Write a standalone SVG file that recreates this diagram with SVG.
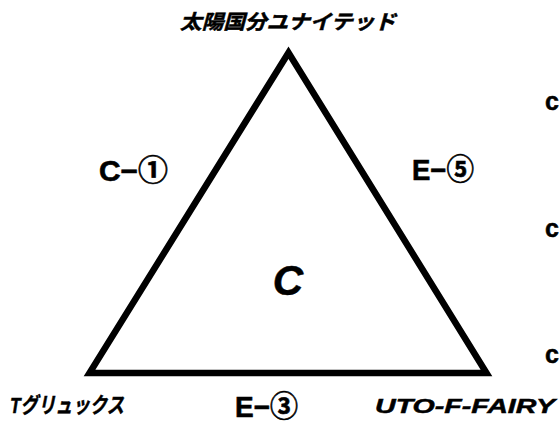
<svg xmlns="http://www.w3.org/2000/svg" width="560" height="423" viewBox="0 0 560 423">
<style>
.lbl{font-family:"Liberation Sans","Noto Sans CJK JP",sans-serif;font-weight:bold;fill:#000;stroke:#000;stroke-width:0.5}
.it{font-style:italic}
.edge{font-family:"Liberation Sans","Noto Sans CJK JP",sans-serif;font-weight:bold;font-size:29px;fill:#000;stroke:#000;stroke-width:0.6}
</style>
<rect width="560" height="423" fill="#fff"/>
<g id="triangle">
<polygon points="89.5,373 486.5,373 288.5,52.7" fill="none" stroke="#000" stroke-width="6.5" stroke-linejoin="miter" stroke-miterlimit="10"/>
</g>
<g id="node-top"><text class="lbl it" x="288" y="29" font-size="20" text-anchor="middle" textLength="216" lengthAdjust="spacingAndGlyphs">太陽国分ユナイテッド</text></g>
<g id="node-left"><text class="lbl it" x="10" y="413" font-size="22" textLength="114" lengthAdjust="spacingAndGlyphs">Tグリュックス</text></g>
<g id="node-right"><text class="lbl it" x="375" y="413" font-size="21" textLength="180" lengthAdjust="spacingAndGlyphs">UTO-F-FAIRY</text></g>
<g id="center"><text class="lbl it" x="288" y="295" font-size="42" text-anchor="middle" stroke-width="2.5">C</text></g>
<g id="connectors">
<text class="edge" x="133.5" y="181" text-anchor="middle" textLength="69" lengthAdjust="spacingAndGlyphs">C−①</text>
<text class="edge" x="443" y="180" text-anchor="middle" textLength="62" lengthAdjust="spacingAndGlyphs">E−⑤</text>
<text class="edge" x="266.5" y="417" text-anchor="middle" textLength="63" lengthAdjust="spacingAndGlyphs">E−③</text>
</g>
<g id="side">
<text class="lbl" x="545" y="110" font-size="25" stroke-width="1.3">c</text>
<text class="lbl" x="545" y="237" font-size="25" stroke-width="1.3">c</text>
<text class="lbl" x="545" y="363" font-size="25" stroke-width="1.3">c</text>
</g>
</svg>
